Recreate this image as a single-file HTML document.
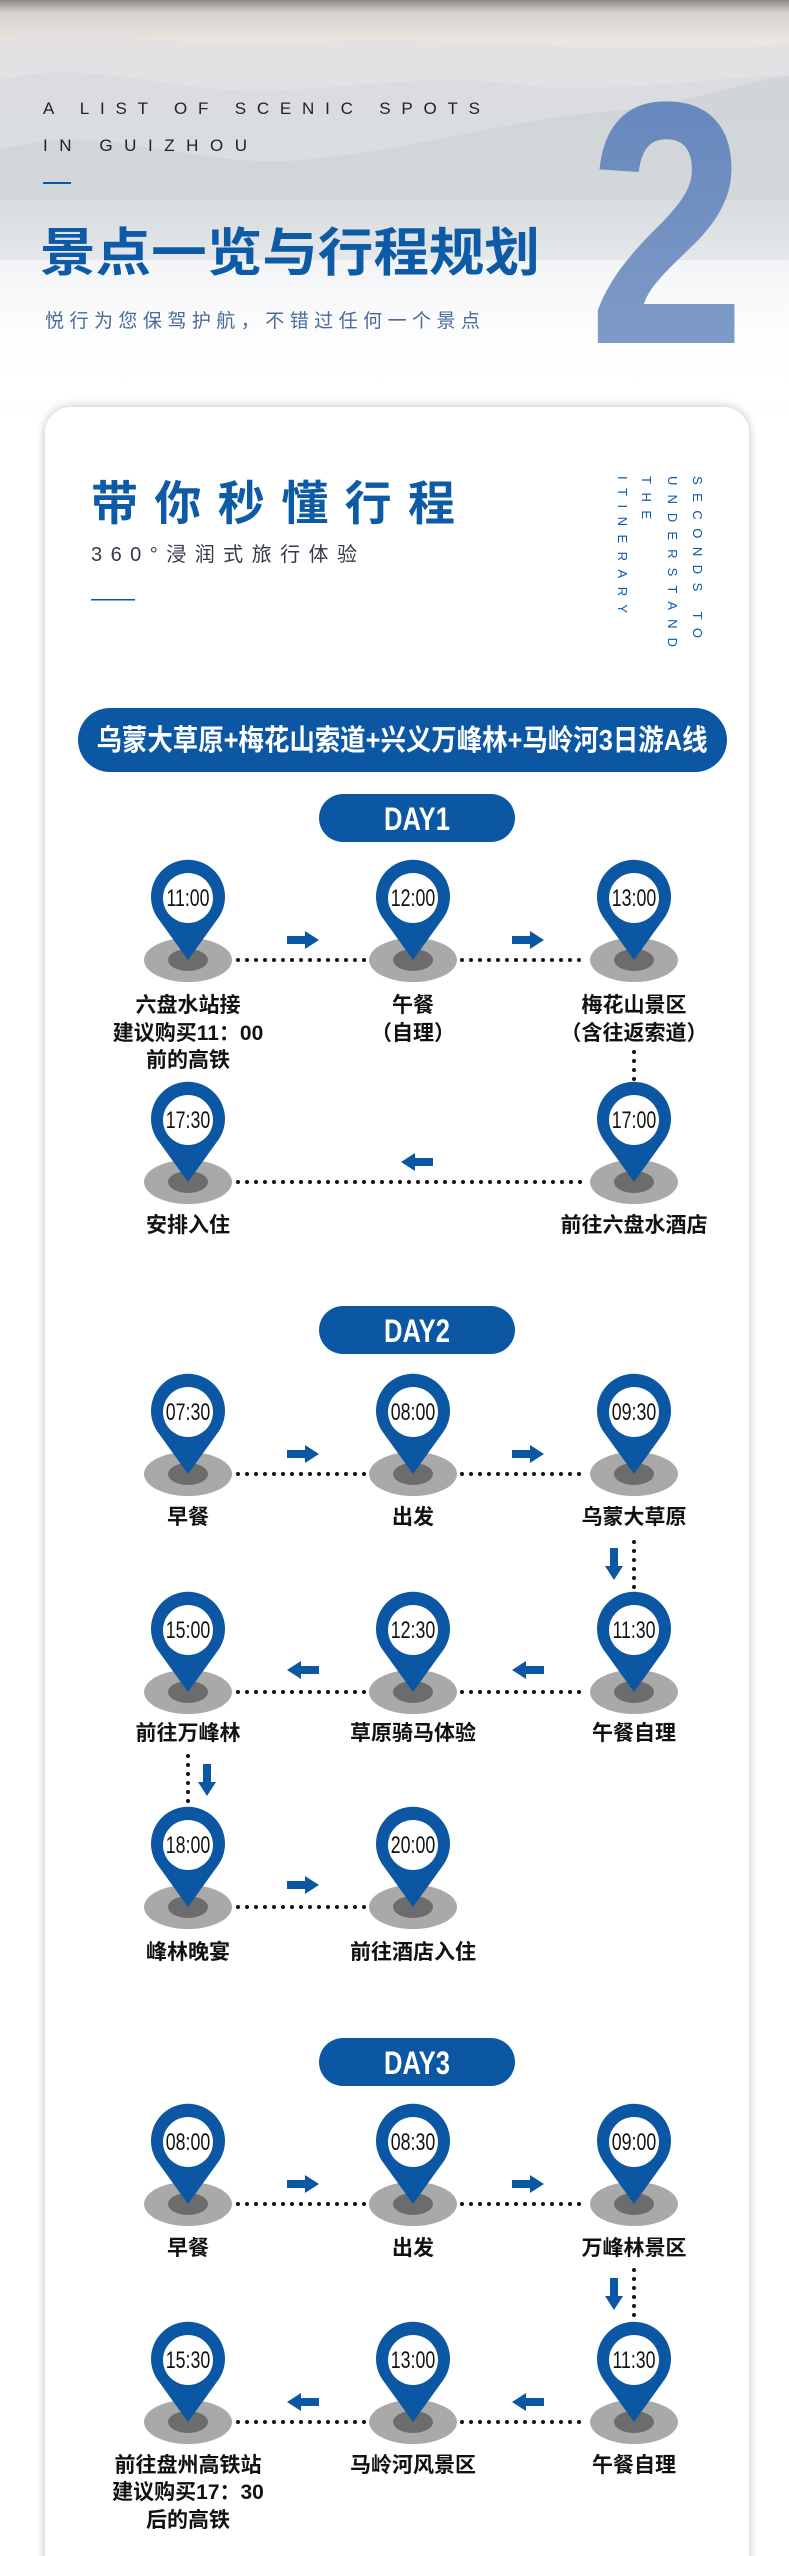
<!DOCTYPE html>
<html><head><meta charset="utf-8"><style>
html,body{margin:0;padding:0;background:#fff}
svg{display:block}
.cn{font-family:"Liberation Sans","Noto Sans CJK SC",sans-serif}
</style></head><body>
<svg width="789" height="2556" viewBox="0 0 789 2556" xmlns="http://www.w3.org/2000/svg">
<defs>
<linearGradient id="sky" x1="0" y1="0" x2="0" y2="1">
<stop offset="0" stop-color="#8f8a86"/>
<stop offset="0.03" stop-color="#d9d3cf"/>
<stop offset="0.1" stop-color="#ebe5e2"/>
<stop offset="0.3" stop-color="#e0e3e5"/>
<stop offset="0.6" stop-color="#eceef0"/>
<stop offset="0.85" stop-color="#fafbfc"/>
<stop offset="1" stop-color="#ffffff"/>
</linearGradient>
<linearGradient id="fade" x1="0" y1="0" x2="0" y2="1">
<stop offset="0" stop-color="#fff" stop-opacity="0"/>
<stop offset="1" stop-color="#fff" stop-opacity="1"/>
</linearGradient>
<linearGradient id="two" x1="0" y1="0" x2="0" y2="1">
<stop offset="0" stop-color="#5f82b9"/>
<stop offset="1" stop-color="#86a0cb"/>
</linearGradient>
<filter id="sh" x="-5%" y="-2%" width="110%" height="104%">
<feGaussianBlur in="SourceAlpha" stdDeviation="5"/>
<feOffset dy="0"/>
<feComponentTransfer><feFuncA type="linear" slope="0.25"/></feComponentTransfer>
<feMerge><feMergeNode/><feMergeNode in="SourceGraphic"/></feMerge>
</filter>
<g id="base">
<ellipse cx="0" cy="0" rx="44" ry="22" fill="#a9a9a9"/>
<ellipse cx="0" cy="0" rx="20" ry="11" fill="#6c6c6c"/>
</g>
<g id="pin">
<path d="M0,0 L-31,-43 A37,37 0 1,1 31,-43 Z" fill="#0b57a4"/>
<circle cx="0" cy="-62" r="25" fill="#fff"/>
</g>
<path id="ar" d="M-16,-4 H2 V-9 L16,0 L2,9 V4 H-16 Z" fill="#0b57a4"/>
</defs>

<rect x="0" y="0" width="789" height="420" fill="url(#sky)"/>
<path d="M0,40 C120,30 200,50 320,42 C450,35 560,55 789,45 L789,120 L0,120 Z" fill="#e0e0e2" opacity="0.7"/>
<path d="M0,80 C80,60 150,85 230,90 C320,95 420,70 520,85 C600,95 680,80 789,75 L789,200 L0,200 Z" fill="#d6d9dc" opacity="0.6"/>
<path d="M0,150 C100,120 200,170 300,160 C420,150 500,120 620,110 C700,100 750,80 789,76 L789,260 L0,260 Z" fill="#cbd0d3" opacity="0.55"/>
<rect x="0" y="200" width="789" height="200" fill="url(#fade)"/>

<text x="43" y="114" font-family="Liberation Sans, sans-serif" font-size="17" fill="#222" textLength="437" lengthAdjust="spacing">A LIST OF SCENIC SPOTS</text>
<text x="43" y="151" font-family="Liberation Sans, sans-serif" font-size="17" fill="#222" textLength="204" lengthAdjust="spacing">IN GUIZHOU</text>
<rect x="43" y="182" width="28" height="2" fill="#0b57a4"/>
<text x="40" y="271" class="cn" font-size="52" font-weight="700" fill="#0d5aa7" textLength="500" lengthAdjust="spacingAndGlyphs">景点一览与行程规划</text>
<text x="45" y="327" class="cn" font-size="19" fill="#4a6a9a" textLength="435" lengthAdjust="spacing">悦行为您保驾护航，不错过任何一个景点</text>
<text transform="translate(588,343) scale(0.82,1)" font-family="Liberation Sans, sans-serif" font-weight="700" font-size="346" fill="url(#two)">2</text>

<rect x="45" y="407" width="704" height="2200" rx="26" fill="#fff" filter="url(#sh)"/>

<text x="91" y="520" class="cn" font-size="47" font-weight="700" fill="#0d5aa7" textLength="364" lengthAdjust="spacing">带你秒懂行程</text>
<text x="91" y="561" class="cn" font-size="20" fill="#333a4a" textLength="266" lengthAdjust="spacing">360°浸润式旅行体验</text>
<rect x="91" y="599" width="44" height="1.5" fill="#0b57a4"/>
<g font-family="Liberation Sans, sans-serif" font-size="13" fill="#0d5aa7">
<text transform="translate(693,476) rotate(90)" textLength="162" lengthAdjust="spacing">SECONDS TO</text>
<text transform="translate(668,476) rotate(90)" textLength="171" lengthAdjust="spacing">UNDERSTAND</text>
<text transform="translate(642,476) rotate(90)" textLength="43" lengthAdjust="spacing">THE</text>
<text transform="translate(618,476) rotate(90)" textLength="137" lengthAdjust="spacing">ITINERARY</text>
</g>

<rect x="78" y="708" width="649" height="64" rx="32" fill="#0b57a4"/>
<text x="402" y="750" text-anchor="middle" class="cn" font-size="29" font-weight="700" fill="#fff" textLength="611" lengthAdjust="spacingAndGlyphs">乌蒙大草原+梅花山索道+兴义万峰林+马岭河3日游A线</text>

<g fill="#0b57a4">
<rect x="319" y="794" width="196" height="48" rx="24"/>
<rect x="319" y="1306" width="196" height="48" rx="24"/>
<rect x="319" y="2038" width="196" height="48" rx="24"/>
</g>
<g font-family="Liberation Sans, sans-serif" font-weight="700" font-size="32" fill="#fff" text-anchor="middle">
<text transform="translate(417,830) scale(0.8,1)">DAY1</text>
<text transform="translate(417,1342) scale(0.8,1)">DAY2</text>
<text transform="translate(417,2074) scale(0.8,1)">DAY3</text>
</g>

<g stroke="#111" stroke-width="4" stroke-linecap="round" stroke-dasharray="0 9" fill="none">
<line x1="238" y1="960" x2="365" y2="960"/><line x1="462" y1="960" x2="585" y2="960"/>
<line x1="634" y1="1052" x2="634" y2="1080"/>
<line x1="238" y1="1182" x2="585" y2="1182"/>
<line x1="238" y1="1474" x2="365" y2="1474"/><line x1="462" y1="1474" x2="585" y2="1474"/>
<line x1="634" y1="1542" x2="634" y2="1590"/>
<line x1="238" y1="1692" x2="365" y2="1692"/><line x1="462" y1="1692" x2="585" y2="1692"/>
<line x1="188" y1="1756" x2="188" y2="1806"/>
<line x1="238" y1="1907" x2="365" y2="1907"/>
<line x1="238" y1="2204" x2="365" y2="2204"/><line x1="462" y1="2204" x2="585" y2="2204"/>
<line x1="634" y1="2270" x2="634" y2="2318"/>
<line x1="238" y1="2422" x2="365" y2="2422"/><line x1="462" y1="2422" x2="585" y2="2422"/>
</g>

<use href="#ar" transform="translate(303,940)"/><use href="#ar" transform="translate(528,940)"/>
<use href="#ar" transform="translate(417,1162) scale(-1,1)"/>
<use href="#ar" transform="translate(303,1454)"/><use href="#ar" transform="translate(528,1454)"/>
<use href="#ar" transform="translate(614,1564) rotate(90)"/>
<use href="#ar" transform="translate(303,1670) scale(-1,1)"/><use href="#ar" transform="translate(528,1670) scale(-1,1)"/>
<use href="#ar" transform="translate(207,1780) rotate(90)"/>
<use href="#ar" transform="translate(303,1885)"/>
<use href="#ar" transform="translate(303,2184)"/><use href="#ar" transform="translate(528,2184)"/>
<use href="#ar" transform="translate(614,2294) rotate(90)"/>
<use href="#ar" transform="translate(303,2402) scale(-1,1)"/><use href="#ar" transform="translate(528,2402) scale(-1,1)"/>

<g>
<use href="#base" x="188" y="960"/><use href="#pin" x="188" y="960"/>
<use href="#base" x="413" y="960"/><use href="#pin" x="413" y="960"/>
<use href="#base" x="634" y="960"/><use href="#pin" x="634" y="960"/>
<use href="#base" x="188" y="1182"/><use href="#pin" x="188" y="1182"/>
<use href="#base" x="634" y="1182"/><use href="#pin" x="634" y="1182"/>
<use href="#base" x="188" y="1474"/><use href="#pin" x="188" y="1474"/>
<use href="#base" x="413" y="1474"/><use href="#pin" x="413" y="1474"/>
<use href="#base" x="634" y="1474"/><use href="#pin" x="634" y="1474"/>
<use href="#base" x="188" y="1692"/><use href="#pin" x="188" y="1692"/>
<use href="#base" x="413" y="1692"/><use href="#pin" x="413" y="1692"/>
<use href="#base" x="634" y="1692"/><use href="#pin" x="634" y="1692"/>
<use href="#base" x="188" y="1907"/><use href="#pin" x="188" y="1907"/>
<use href="#base" x="413" y="1907"/><use href="#pin" x="413" y="1907"/>
<use href="#base" x="188" y="2204"/><use href="#pin" x="188" y="2204"/>
<use href="#base" x="413" y="2204"/><use href="#pin" x="413" y="2204"/>
<use href="#base" x="634" y="2204"/><use href="#pin" x="634" y="2204"/>
<use href="#base" x="188" y="2422"/><use href="#pin" x="188" y="2422"/>
<use href="#base" x="413" y="2422"/><use href="#pin" x="413" y="2422"/>
<use href="#base" x="634" y="2422"/><use href="#pin" x="634" y="2422"/>
</g>

<g font-family="Liberation Sans, sans-serif" font-size="24" fill="#111" text-anchor="middle">
<text transform="translate(188,906) scale(0.74,1)">11:00</text>
<text transform="translate(413,906) scale(0.74,1)">12:00</text>
<text transform="translate(634,906) scale(0.74,1)">13:00</text>
<text transform="translate(188,1128) scale(0.74,1)">17:30</text>
<text transform="translate(634,1128) scale(0.74,1)">17:00</text>
<text transform="translate(188,1420) scale(0.74,1)">07:30</text>
<text transform="translate(413,1420) scale(0.74,1)">08:00</text>
<text transform="translate(634,1420) scale(0.74,1)">09:30</text>
<text transform="translate(188,1638) scale(0.74,1)">15:00</text>
<text transform="translate(413,1638) scale(0.74,1)">12:30</text>
<text transform="translate(634,1638) scale(0.74,1)">11:30</text>
<text transform="translate(188,1853) scale(0.74,1)">18:00</text>
<text transform="translate(413,1853) scale(0.74,1)">20:00</text>
<text transform="translate(188,2150) scale(0.74,1)">08:00</text>
<text transform="translate(413,2150) scale(0.74,1)">08:30</text>
<text transform="translate(634,2150) scale(0.74,1)">09:00</text>
<text transform="translate(188,2368) scale(0.74,1)">15:30</text>
<text transform="translate(413,2368) scale(0.74,1)">13:00</text>
<text transform="translate(634,2368) scale(0.74,1)">11:30</text>
</g>

<g class="cn" font-size="21" font-weight="700" fill="#111" text-anchor="middle">
<text x="188" y="1012">六盘水站接</text>
<text x="188" y="1040">建议购买11：00</text>
<text x="188" y="1067">前的高铁</text>
<text x="413" y="1012">午餐</text>
<text x="413" y="1040">（自理）</text>
<text x="634" y="1012">梅花山景区</text>
<text x="634" y="1040">（含往返索道）</text>
<text x="188" y="1232">安排入住</text>
<text x="634" y="1232">前往六盘水酒店</text>
<text x="188" y="1524">早餐</text>
<text x="413" y="1524">出发</text>
<text x="634" y="1524">乌蒙大草原</text>
<text x="188" y="1740">前往万峰林</text>
<text x="413" y="1740">草原骑马体验</text>
<text x="634" y="1740">午餐自理</text>
<text x="188" y="1959">峰林晚宴</text>
<text x="413" y="1959">前往酒店入住</text>
<text x="188" y="2255">早餐</text>
<text x="413" y="2255">出发</text>
<text x="634" y="2255">万峰林景区</text>
<text x="188" y="2472">前往盘州高铁站</text>
<text x="188" y="2499">建议购买17：30</text>
<text x="188" y="2527">后的高铁</text>
<text x="413" y="2472">马岭河风景区</text>
<text x="634" y="2472">午餐自理</text>
</g>
</svg>
</body></html>
